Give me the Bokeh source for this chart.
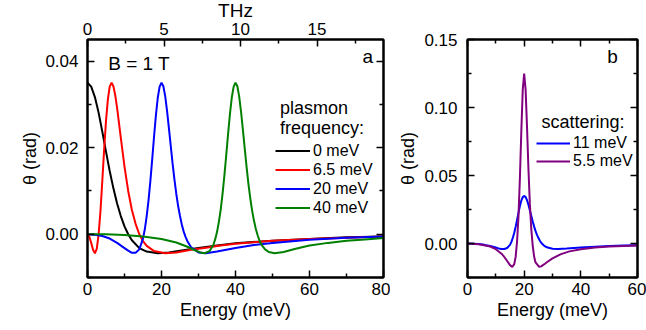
from bokeh.plotting import figure
from bokeh.layouts import row
from bokeh.models import (LinearAxis, Range1d, FixedTicker, Label, Legend, LegendItem,
                          NumeralTickFormatter, CustomJSTickFormatter)
from bokeh.embed import file_html
from bokeh.resources import INLINE

FONT = "Liberation Sans"

# ---------------- data ----------------
# panel a: plasmon frequency series, energy in meV, theta in rad
e_0meV = [0, 1, 2, 3, 4, 5, 6, 7, 8, 9, 10, 11, 12, 14, 16, 19, 22, 25, 30, 35, 40, 50, 60, 70, 80]
t_0meV = [0.0350, 0.0341, 0.0317, 0.0281, 0.0237, 0.0191, 0.0146, 0.0106, 0.0071, 0.0042, 0.0018,
          0.0000, -0.0014, -0.0032, -0.0040, -0.0044, -0.0042, -0.0038, -0.0032, -0.0026, -0.0021,
          -0.0015, -0.0011, -0.0007, -0.0005]

e_6p5meV = [0, 0.5, 1, 1.5, 2, 2.5, 3, 3.5, 4, 4.5, 5, 5.5, 6, 6.5, 7, 7.5, 8, 9, 10, 11, 12, 13,
            14, 15, 16, 18, 21, 24, 28, 32, 36, 40, 50, 60, 70, 80]
t_6p5meV = [0.0, -0.0006, -0.0020, -0.0036, -0.0044, -0.0034, -0.0001, 0.0053, 0.0123, 0.0196,
            0.0262, 0.0311, 0.0341, 0.0350, 0.0342, 0.0321, 0.0292, 0.0223, 0.0156, 0.0100, 0.0056,
            0.0024, 0.0000, -0.0016, -0.0027, -0.0039, -0.0044, -0.0042, -0.0036, -0.0031, -0.0026,
            -0.0022, -0.0015, -0.0011, -0.0008, -0.0005]

e_20meV = [0, 2, 4, 6, 8, 10, 11, 12, 13, 14, 15, 15.5, 16, 16.5, 17, 17.5, 18, 18.5, 19, 19.5, 20,
           20.5, 21, 21.5, 22, 22.5, 23, 23.5, 24, 24.5, 25, 25.5, 26, 26.5, 27, 28, 30, 32, 35, 40,
           45, 50, 60, 70, 80]
t_20meV = [0.0, -0.0001, -0.0004, -0.0010, -0.0020, -0.0032, -0.0038, -0.0043, -0.0043, -0.0035,
           -0.0010, 0.0012, 0.0042, 0.0079, 0.0124, 0.0174, 0.0227, 0.0276, 0.0316, 0.0341, 0.0350,
           0.0342, 0.0319, 0.0285, 0.0245, 0.0204, 0.0163, 0.0126, 0.0093, 0.0065, 0.0042, 0.0022,
           0.0006, -0.0006, -0.0016, -0.0030, -0.0042, -0.0044, -0.0040, -0.0032, -0.0025, -0.0020,
           -0.0013, -0.0008, -0.0005]

e_40meV = [0, 5, 10, 15, 20, 24, 27, 29, 30.5, 31.6, 33, 34, 34.5, 35, 35.5, 36, 36.5, 37, 37.5, 38,
           38.5, 39, 39.5, 40, 40.5, 41, 41.5, 42, 42.5, 43, 43.5, 44, 44.5, 45, 45.5, 46, 46.5, 47,
           48, 49, 50.6, 53, 56, 60, 65, 70, 75, 80]
t_40meV = [0.0, 0.0, -0.0002, -0.0005, -0.0011, -0.0019, -0.0029, -0.0037, -0.0042, -0.0044, -0.0039,
           -0.0025, -0.0012, 0.0005, 0.0028, 0.0057, 0.0093, 0.0136, 0.0183, 0.0232, 0.0278, 0.0316,
           0.0341, 0.0350, 0.0342, 0.0318, 0.0283, 0.0241, 0.0198, 0.0155, 0.0116, 0.0083, 0.0054,
           0.0031, 0.0012, -0.0003, -0.0015, -0.0024, -0.0035, -0.0041, -0.0044, -0.0041, -0.0034,
           -0.0026, -0.0020, -0.0015, -0.0012, -0.0009]

# panel b: scattering series (plasmon at 20 meV)
e_11meV = [0, 2, 4, 6, 8, 10, 11, 12, 13, 14, 15, 15.5, 16, 16.5, 17, 17.5, 18, 18.5, 19, 19.5, 20,
           20.5, 21, 21.5, 22, 22.5, 23, 23.5, 24, 24.5, 25, 25.5, 26, 26.5, 27, 28, 30, 32, 35, 40,
           45, 50, 55, 60]
t_11meV = [0.0, -0.0001, -0.0004, -0.0010, -0.0019, -0.0030, -0.0036, -0.0040, -0.0040, -0.0033,
           -0.0010, 0.0012, 0.0042, 0.0079, 0.0124, 0.0174, 0.0227, 0.0276, 0.0316, 0.0341, 0.0350,
           0.0342, 0.0319, 0.0285, 0.0245, 0.0204, 0.0163, 0.0126, 0.0093, 0.0065, 0.0042, 0.0022,
           0.0006, -0.0006, -0.0015, -0.0028, -0.0038, -0.0040, -0.0037, -0.0030, -0.0024, -0.0019,
           -0.0015, -0.0012]

e_5p5meV = [0, 4, 8, 10, 12, 13, 14, 15, 15.8, 16.5, 17, 17.5, 18, 18.5, 19, 19.5, 20, 20.5, 21,
            21.5, 22, 22.5, 23, 23.5, 24, 25.3, 26, 27, 28, 30, 33, 36, 40, 45, 50, 55, 60]
t_5p5meV = [0.0, -0.0005, -0.0022, -0.0042, -0.0075, -0.0099, -0.0129, -0.0159, -0.0172, -0.0152,
            -0.0097, 0.0017, 0.0203, 0.0485, 0.0829, 0.1130, 0.1250, 0.1135, 0.0862, 0.0554, 0.0295,
            0.0109, -0.0013, -0.0094, -0.0139, -0.0172, -0.0168, -0.0154, -0.0138, -0.0109, -0.0078,
            -0.0058, -0.0042, -0.0030, -0.0022, -0.0018, -0.0014]

# ticks
a_x_ticks = [0, 20, 40, 60, 80]
a_x_minor = [10, 30, 50, 70]
a_y_ticks = [0.0, 0.02, 0.04]
a_y_minor = [-0.01, 0.01, 0.03]
thz_ticks = [0, 5, 10, 15]
thz_minor = [2.5, 7.5, 12.5, 17.5]
b_x_ticks = [0, 20, 40, 60]
b_x_minor = [10, 30, 50]
b_y_ticks = [0.0, 0.05, 0.10, 0.15]
b_y_minor = [-0.025, 0.025, 0.075, 0.125]

a_labels = ["0 meV", "6.5 meV", "20 meV", "40 meV"]
a_colors = ["#000000", "#ff0000", "#0000ff", "#008000"]
b_labels = ["11 meV", "5.5 meV"]
b_colors = ["#0000ff", "#800080"]

MEV_PER_THZ = 4.1357
E_MAX_A = 80
E_MAX_B = 60


def style_axis(ax, ticks, minor, show_labels=True, fmt=None):
    ax.ticker = FixedTicker(ticks=ticks, minor_ticks=minor)
    ax.major_tick_in = 7
    ax.major_tick_out = 0
    ax.minor_tick_in = 4
    ax.minor_tick_out = 0
    ax.major_tick_line_width = 1.5
    ax.minor_tick_line_width = 1.5
    ax.major_tick_line_color = "black"
    ax.minor_tick_line_color = "black"
    ax.axis_line_width = 2
    ax.axis_line_color = "black"
    ax.major_label_text_font = FONT
    ax.major_label_text_font_size = "17px"
    ax.major_label_text_color = "black"
    ax.axis_label_text_font = FONT
    ax.axis_label_text_font_size = "18px"
    ax.axis_label_text_font_style = "normal"
    ax.axis_label_text_color = "black"
    if fmt is not None:
        ax.formatter = fmt
    if not show_labels:
        ax.formatter = CustomJSTickFormatter(code="return ''")
        ax.major_label_standoff = 0


SHIFT = 7  # layout is raised by this many px so the THz title can sit near the top edge


def make_fig(width, xr, yr, border_left, border_right):
    p = figure(width=width, height=330 + SHIFT, x_range=xr, y_range=yr,
               output_backend="svg", toolbar_location=None,
               min_border_left=border_left, min_border_right=border_right,
               min_border_top=39 + SHIFT, min_border_bottom=53,
               x_axis_location=None, y_axis_location=None)
    p.xgrid.visible = False
    p.ygrid.visible = False
    p.outline_line_color = "black"
    p.outline_line_width = 2
    p.background_fill_color = "white"
    p.border_fill_color = "white"
    return p


# ---------------- panel a ----------------
pa = make_fig(390, Range1d(0, E_MAX_A), Range1d(-0.01, 0.045), 87, 7)
pa.extra_x_ranges = {"thz": Range1d(0, E_MAX_A / MEV_PER_THZ)}

bx = LinearAxis(axis_label="Energy (meV)")
style_axis(bx, a_x_ticks, a_x_minor)
bx.major_label_standoff = 5
bx.axis_label_standoff = 2
pa.add_layout(bx, "below")

tx = LinearAxis(x_range_name="thz", axis_label="THz")
style_axis(tx, thz_ticks, thz_minor)
tx.major_label_standoff = 5
tx.axis_label_standoff = -1
tx.axis_label_text_font_size = "19px"
pa.add_layout(tx, "above")

ly = LinearAxis(axis_label="θ (rad)")
style_axis(ly, a_y_ticks, a_y_minor, fmt=NumeralTickFormatter(format="0.00"))
ly.major_label_standoff = 9
ly.axis_label_standoff = 2
pa.add_layout(ly, "left")

ry = LinearAxis()
style_axis(ry, a_y_ticks, a_y_minor, show_labels=False)
pa.add_layout(ry, "right")

a_series = [(e_0meV, t_0meV), (e_6p5meV, t_6p5meV), (e_20meV, t_20meV), (e_40meV, t_40meV)]
a_items = []
for (xs, ys), lab, col in zip(a_series, a_labels, a_colors):
    r = pa.line(xs, ys, line_color=col, line_width=2)
    a_items.append(LegendItem(label=lab, renderers=[r]))

leg_a = Legend(items=a_items, location=(188, 60), orientation="vertical",
               background_fill_alpha=0, border_line_color=None,
               label_text_font=FONT, label_text_font_size="16px", label_text_color="black",
               glyph_width=35, glyph_height=19, label_height=19, spacing=-1,
               padding=0, margin=0, label_standoff=3)
pa.add_layout(leg_a)

for txt, x, y, size in [("B = 1 T", 5.6, 0.0395, "19px"), ("a", 74.3, 0.0410, "19px"),
                        ("plasmon", 52.0, 0.0292, "18px"), ("frequency:", 52.0, 0.0245, "18px")]:
    pa.add_layout(Label(x=x, y=y, text=txt, text_font=FONT, text_font_size=size,
                        text_color="black", text_baseline="alphabetic"))

# ---------------- panel b ----------------
pb = make_fig(256, Range1d(0, E_MAX_B), Range1d(-0.025, 0.15), 77, 9)

bx2 = LinearAxis(axis_label="Energy (meV)")
style_axis(bx2, b_x_ticks, b_x_minor)
bx2.major_label_standoff = 5
bx2.axis_label_standoff = 2
pb.add_layout(bx2, "below")

tx2 = LinearAxis()
style_axis(tx2, b_x_ticks, b_x_minor, show_labels=False)
pb.add_layout(tx2, "above")

ly2 = LinearAxis(axis_label="θ (rad)")
style_axis(ly2, b_y_ticks, b_y_minor, fmt=NumeralTickFormatter(format="0.00"))
ly2.major_label_standoff = 10
ly2.axis_label_standoff = 3
pb.add_layout(ly2, "left")

ry2 = LinearAxis()
style_axis(ry2, b_y_ticks, b_y_minor, show_labels=False)
pb.add_layout(ry2, "right")

b_series = [(e_11meV, t_11meV), (e_5p5meV, t_5p5meV)]
b_items = []
for (xs, ys), lab, col in zip(b_series, b_labels, b_colors):
    r = pb.line(xs, ys, line_color=col, line_width=2)
    b_items.append(LegendItem(label=lab, renderers=[r]))

leg_b = Legend(items=b_items, location=(69, 107), orientation="vertical",
               background_fill_alpha=0, border_line_color=None,
               label_text_font=FONT, label_text_font_size="16px", label_text_color="black",
               glyph_width=34, glyph_height=18, label_height=18, spacing=-2,
               padding=0, margin=0, label_standoff=3)
pb.add_layout(leg_b)

for txt, x, y, size in [("b", 49.3, 0.1375, "19px"), ("scattering:", 26.1, 0.0892, "18px")]:
    pb.add_layout(Label(x=x, y=y, text=txt, text_font=FONT, text_font_size=size,
                        text_color="black", text_baseline="alphabetic"))

layout = row(pa, pb, styles={"margin-top": f"-{SHIFT}px"})
open("out.html", "w").write(file_html(layout, INLINE))
